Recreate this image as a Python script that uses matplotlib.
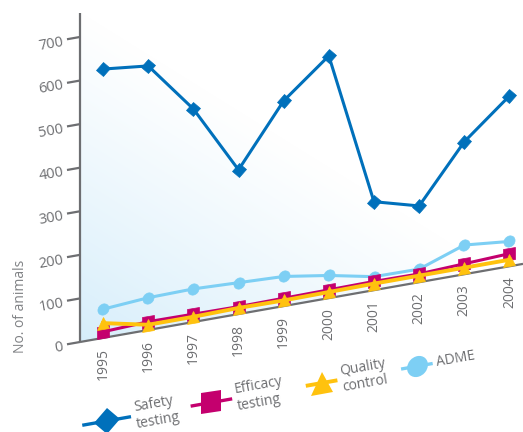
import numpy as np
import matplotlib
matplotlib.use("Agg")
import matplotlib.pyplot as plt
from matplotlib.markers import MarkerStyle
from matplotlib.transforms import Affine2D
from matplotlib.patches import Polygon

# ---- data -------------------------------------------------------------
years = [1995, 1996, 1997, 1998, 1999, 2000, 2001, 2002, 2003, 2004]
safety_testing = [617, 606, 489, 331, 471, 556, 203, 175, 304, 391]
efficacy_testing = [14, 19, 18, 17, 18, 19, 20, 19, 24, 29]
quality_control = [34, 12, 12, 14, 13, 14, 15, 15, 15, 15]
adme = [66, 74, 76, 72, 68, 52, 31, 30, 67, 57]
y_ticks = [0, 100, 200, 300, 400, 500, 600, 700]
series_labels = ["Safety\ntesting", "Efficacy\ntesting", "Quality\ncontrol", "ADME"]
y_label = "No. of animals"

# ---- style ------------------------------------------------------------
plt.rcParams["font.family"] = ["Open Sans", "DejaVu Sans"]
GREY = "#6d6e71"
C_SAFETY = "#0070bb"
C_EFFICACY = "#c4006e"
C_QUALITY = "#ffc20e"
C_ADME = "#7dcff4"
SKEW_DEG = 10.0

W_PX, H_PX = 523, 432
fig = plt.figure(figsize=(W_PX / 100, H_PX / 100), dpi=100)

# plot box (before shearing)
ax_left, ax_bottom, ax_w, ax_h = 80, 90, 443, 329
ax = fig.add_axes([ax_left / W_PX, ax_bottom / H_PX, ax_w / W_PX, ax_h / H_PX])
x0, x1 = 1994.49, 2004.30
ytop = 755
ax.set_xlim(x0, x1)
ax.set_ylim(0, ytop)
ax.axis("off")

# vertical shear: the value axis stays upright, the year axis climbs
px_per_year = ax_w / (x1 - x0)
px_per_unit = ax_h / ytop
k = np.tan(np.radians(SKEW_DEG)) * px_per_year / px_per_unit
shear = Affine2D(np.array([[1.0, 0.0, 0.0], [k, 1.0, -k * x0], [0.0, 0.0, 1.0]]))
T = shear + ax.transData


def skewed_marker(m):
    return MarkerStyle(m, transform=Affine2D().skew_deg(0, SKEW_DEG))


# ---- background gradient, clipped to the sheared plot area -----------
gy, gx = np.mgrid[0:ax_h, 0:ax_w]
t = (gx * 0.53 + (ax_h - gy) * 0.85) / 280.0
t = np.clip(t, 0, 1) ** 0.85
blue = np.array([0.835, 0.93, 0.982])
img = blue[None, None, :] * (1 - t[..., None]) + t[..., None]
im = ax.imshow(img, extent=(0, 1, 0, 1), transform=ax.transAxes,
               aspect="auto", interpolation="bilinear", zorder=0)
area = Polygon([[x0, 0], [x1, 0], [x1, ytop], [x0, ytop]], closed=True,
               transform=T, facecolor="none", edgecolor="none")
ax.add_patch(area)
im.set_clip_path(area)

# ---- axes lines, ticks and labels -------------------------------------
ax.plot([x0, x0], [0, ytop], color=GREY, lw=1.6, transform=T, clip_on=False,
        solid_capstyle="butt", zorder=2)
ax.plot([x0, x1], [0, 0], color=GREY, lw=1.6, transform=T, clip_on=False,
        solid_capstyle="butt", zorder=2)

tick_len = 13 / px_per_year
for v in y_ticks:
    ax.plot([x0 - tick_len, x0], [v, v], color=GREY, lw=1.6, transform=T,
            clip_on=False, solid_capstyle="butt", zorder=2)
    ax.text(x0 - 17 / px_per_year, v, str(v), transform=T, ha="right",
            va="center_baseline", rotation=SKEW_DEG, rotation_mode="anchor",
            fontsize=10.5, color=GREY)

for yr in years:
    ax.text(yr, -10 / px_per_unit, str(yr), transform=T, ha="center",
            va="top", rotation=90, fontsize=10, color=GREY)

fig.text(21 / W_PX, 1 - 306 / H_PX, y_label, rotation=90, ha="center",
         va="center", fontsize=10, color="#808285")

# ---- series -----------------------------------------------------------
series = [
    (adme, C_ADME, "o", 8.0, 2.2, 3),
    (efficacy_testing, C_EFFICACY, "s", 8.0, 2.2, 4),
    (quality_control, C_QUALITY, "^", 9.0, 2.8, 5),
    (safety_testing, C_SAFETY, "D", 6.8, 2.2, 6),
]
for vals, col, mk, ms, lw, z in series:
    ax.plot(years, vals, color=col, lw=lw, marker=skewed_marker(mk),
            markersize=ms, markerfacecolor=col, markeredgecolor=col,
            markeredgewidth=0.5, transform=T, clip_on=False, zorder=z)

# ---- key below the chart ----------------------------------------------
legend_y = -192
legend_x = [1995.08, 1997.40, 1999.84, 2001.95]
legend_half = [0.54, 0.46, 0.35, 0.35]
legend_style = [
    (C_SAFETY, "D", 13.5, 2.4),
    (C_EFFICACY, "s", 15.0, 2.4),
    (C_QUALITY, "^", 15.5, 2.8),
    (C_ADME, "o", 15.0, 2.4),
]
for lx, h, (col, mk, ms, lw), lab in zip(legend_x, legend_half, legend_style,
                                         series_labels):
    ax.plot([lx - h, lx + h], [legend_y, legend_y], color=col, lw=lw,
            transform=T, clip_on=False, solid_capstyle="butt", zorder=3)
    ax.plot([lx], [legend_y], marker=skewed_marker(mk), markersize=ms,
            color=col, markeredgewidth=0, transform=T, clip_on=False, zorder=4)
    ax.text(lx + h + 4 / px_per_year, legend_y, lab, transform=T, ha="left",
            va="center", rotation=SKEW_DEG, rotation_mode="anchor",
            fontsize=10, color=GREY, linespacing=1.15)

fig.savefig("out.png", dpi=100)
